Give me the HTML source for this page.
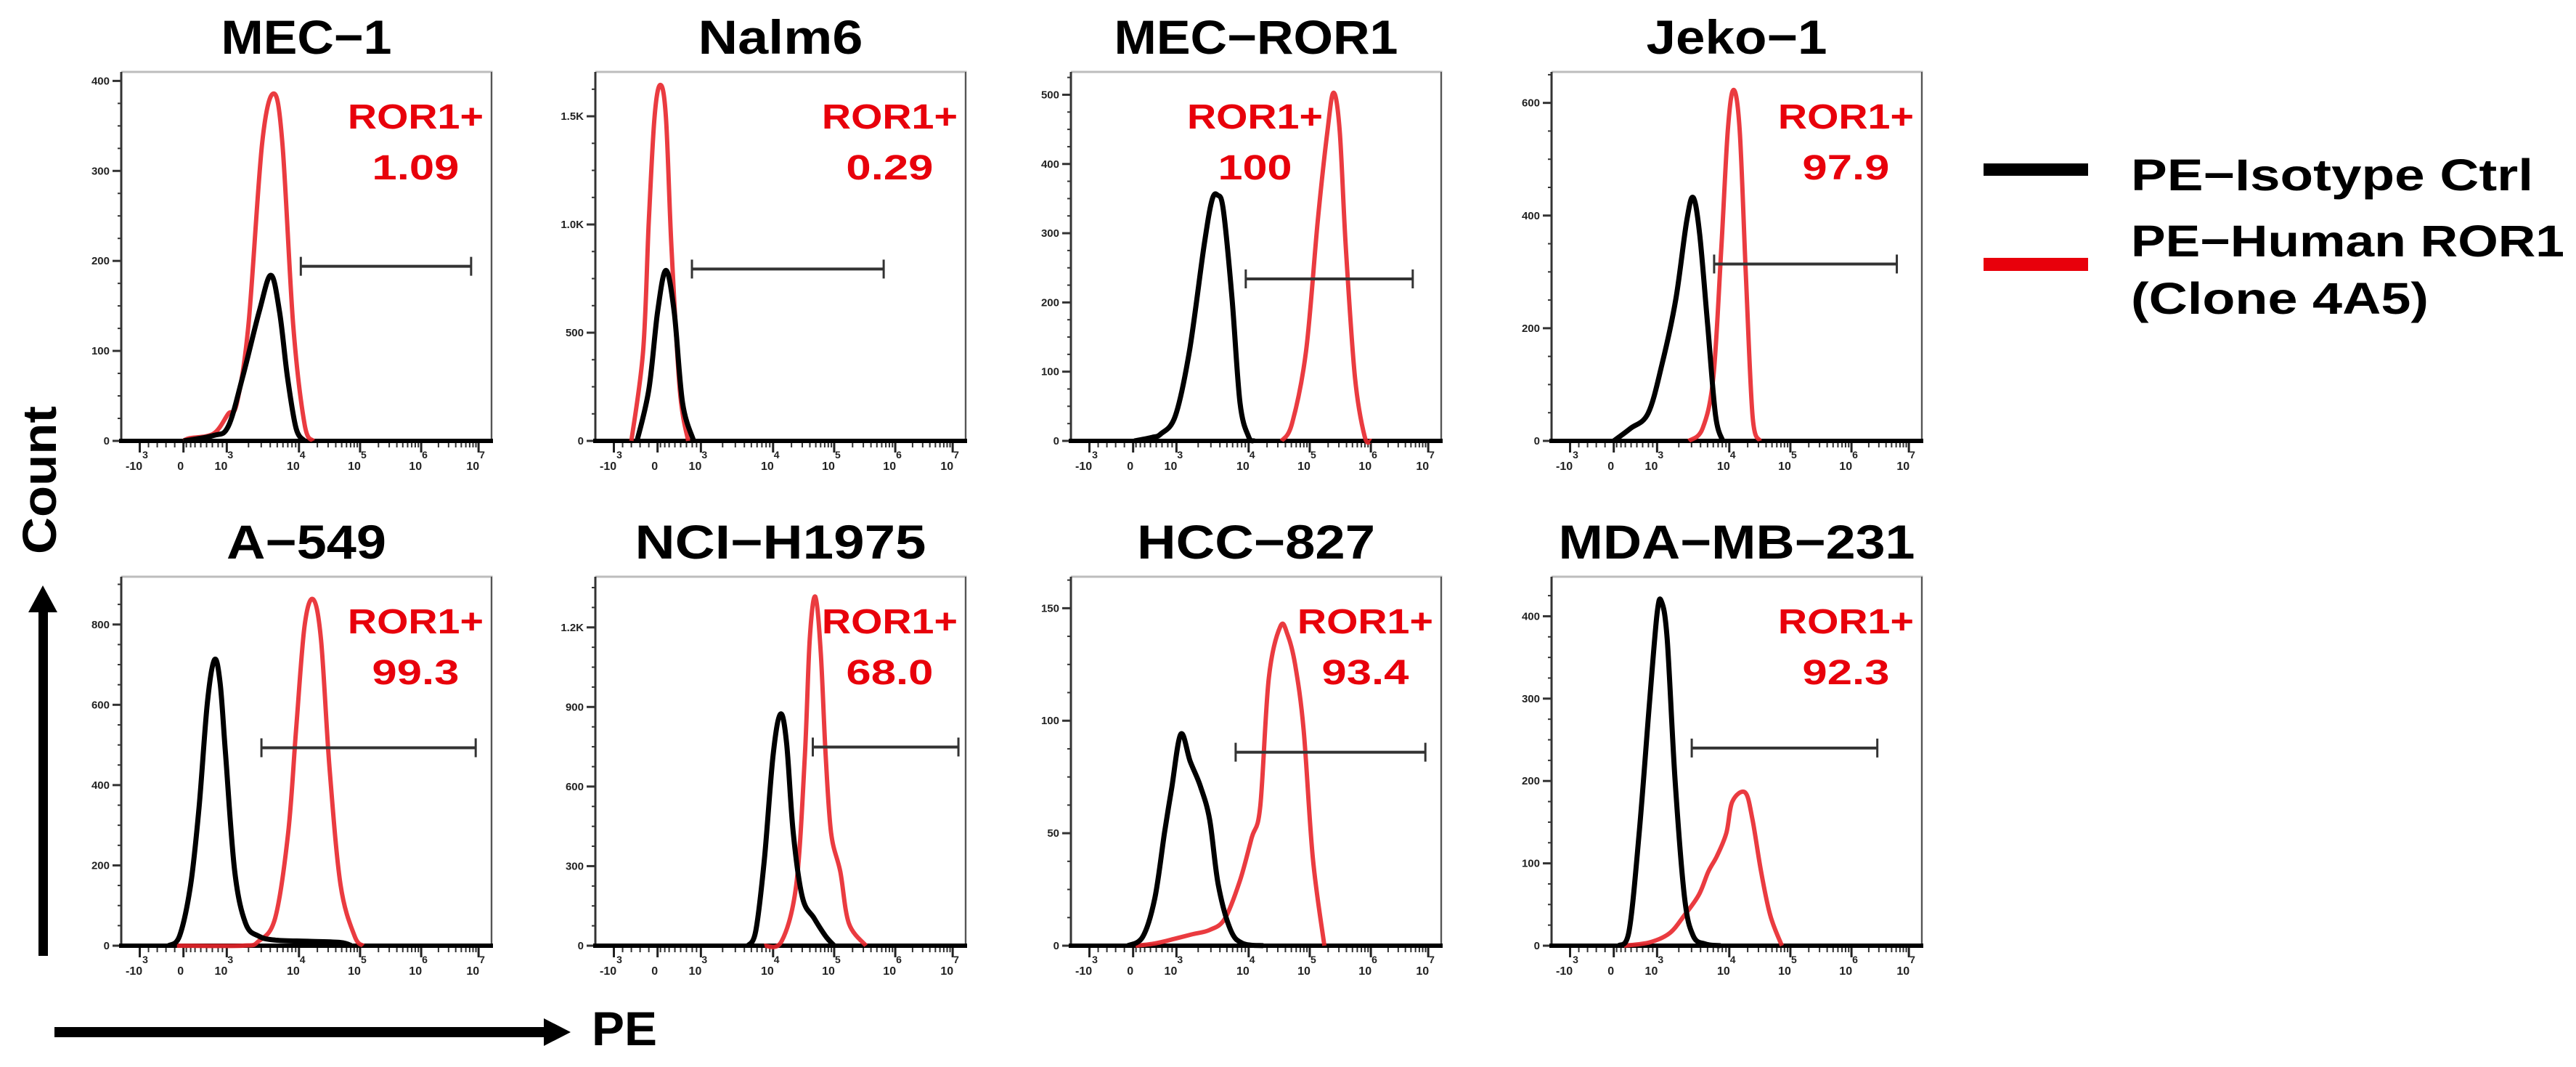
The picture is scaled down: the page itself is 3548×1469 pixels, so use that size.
<!DOCTYPE html>
<html><head><meta charset="utf-8"><title>ROR1 flow cytometry histograms</title>
<style>
html,body{margin:0;padding:0;background:#fff;}
svg{display:block;font-family:"Liberation Sans",Arial,sans-serif;}
</style></head>
<body>
<svg id="fig" width="3548" height="1469" viewBox="0 0 3548 1469" xmlns="http://www.w3.org/2000/svg">
  <rect width="3548" height="1469" fill="#fff"/>
  <g id="panels"></g>

  <!-- Y axis label + arrow -->
  <text x="0" y="0" transform="translate(77,661) rotate(-90)" text-anchor="middle" font-size="66" font-weight="bold" textLength="204" lengthAdjust="spacingAndGlyphs">Count</text>
  <g>
    <rect x="53" y="838" width="13" height="478" fill="#000"/>
    <polygon points="39,843 79,843 59,806" fill="#000"/>
  </g>
  <!-- X axis label + arrow -->
  <g>
    <rect x="75" y="1414" width="676" height="14" fill="#000"/>
    <polygon points="749,1402 749,1440 786,1421" fill="#000"/>
  </g>
  <text x="815" y="1439" font-size="66" font-weight="bold" textLength="90" lengthAdjust="spacingAndGlyphs">PE</text>

  <!-- Legend -->
  <g>
    <rect x="2732" y="225" width="144" height="17" fill="#000"/>
    <text x="2935" y="262" font-size="61" font-weight="bold" textLength="554" lengthAdjust="spacingAndGlyphs">PE−Isotype Ctrl</text>
    <rect x="2732" y="355" width="144" height="18" fill="#e8000b"/>
    <text x="2935" y="353" font-size="61" font-weight="bold" textLength="597" lengthAdjust="spacingAndGlyphs">PE−Human ROR1</text>
    <text x="2935" y="432" font-size="61" font-weight="bold" textLength="410" lengthAdjust="spacingAndGlyphs">(Clone 4A5)</text>
  </g>
</svg>
<script>
// ---------- DATA ----------
// x values are in "display decades": -1 = -10^3, 0 = 0, 3 = 10^3, 4 = 10^4 ... 7 = 10^7
const cellLines = ["MEC−1","Nalm6","MEC−ROR1","Jeko−1","A−549","NCI−H1975","HCC−827","MDA−MB−231"];
const ror1Percent = ["1.09","0.29","100","97.9","99.3","68.0","93.4","92.3"];
const yMax = [410, 1705, 533, 655, 919, 1391, 164, 448];
const yStep = [100, 500, 100, 200, 200, 300, 50, 100];
const xTickDecades = [-1, 0, 3, 4, 5, 6, 7];
const xTickLabels = [["-10","3"],["0",""],["10","3"],["10","4"],["10","5"],["10","6"],["10","7"]];
const gateStart = [4.03, 2.38, 3.96, 3.79, 3.48, 4.65, 3.82, 3.48];
const gateEnd   = [6.87, 5.81, 6.73, 6.79, 6.95, 7.10, 6.95, 6.45];
const gateCount = [194, 794, 234, 314, 493, 749, 86, 240];

const isotypeCurves = [
  [[0,0],[2.08,6],[3.02,16],[3.22,71],[3.45,144],[3.61,184],[3.73,144],[3.84,71],[3.96,14],[4.09,0]],
  [[-0.47,0],[-0.2,236],[0,596],[0.58,788],[1.15,596],[1.73,176],[2.5,0]],
  [[0.08,0],[1.30,5],[1.91,10],[2.92,36],[3.18,130],[3.38,280],[3.49,347],[3.57,355],[3.65,333],[3.77,206],[3.88,55],[4.0,6],[4.09,0]],
  [[0,0],[1.15,22],[2.38,49],[3.07,137],[3.26,252],[3.41,390],[3.50,432],[3.59,367],[3.70,206],[3.81,45],[3.91,0]],
  [[-0.34,0],[-0.09,24],[0.5,152],[1.08,345],[1.65,603],[2.15,712],[2.54,654],[2.92,474],[3.11,185],[3.26,56],[3.44,24],[3.67,14],[4.14,11],[4.68,8],[4.86,0]],
  [[3.65,0],[3.76,55],[3.88,328],[4.0,718],[4.12,873],[4.22,766],[4.33,425],[4.48,182],[4.67,104],[4.86,36],[5.0,0]],
  [[-0.12,0],[0.67,4],[1.5,21],[2.17,50],[2.67,70],[3.06,94],[3.19,82],[3.33,71],[3.46,56],[3.58,27],[3.75,7],[3.92,1],[4.24,0]],
  [[0.35,0],[1.06,18],[1.76,137],[2.47,294],[3.0,403],[3.06,418],[3.14,372],[3.25,200],[3.38,59],[3.5,12],[3.67,2],[3.88,0]]
];
const ror1Curves = [
  [[0,0],[0.42,3],[2.08,8],[3.02,30],[3.14,42],[3.30,129],[3.49,331],[3.65,386],[3.77,331],[3.92,129],[4.09,19],[4.23,0]],
  [[-0.6,0],[-0.33,416],[-0.2,1015],[-0.07,1495],[0.19,1645],[0.58,1495],[0.96,896],[1.54,236],[2.12,0]],
  [[4.54,0],[4.71,25],[4.94,130],[5.13,317],[5.29,448],[5.39,503],[5.49,448],[5.59,280],[5.74,92],[5.90,6],[6.0,0]],
  [[3.44,0],[3.63,22],[3.78,114],[3.89,344],[3.98,552],[4.07,623],[4.17,552],[4.27,298],[4.38,45],[4.5,0]],
  [[-0.15,0],[3.22,0],[3.44,11],[3.67,69],[3.85,281],[3.96,538],[4.09,795],[4.23,863],[4.36,763],[4.5,442],[4.68,152],[4.91,24],[5.05,0]],
  [[3.88,0],[4.14,17],[4.38,231],[4.52,718],[4.6,1156],[4.69,1316],[4.78,1107],[4.86,718],[4.95,425],[5.1,279],[5.24,85],[5.52,0]],
  [[0.17,0],[1.5,1],[2.83,3],[3.21,5],[3.46,7],[3.67,12],[3.88,29],[4.05,48],[4.19,62],[4.33,119],[4.52,142],[4.64,138],[4.76,125],[4.9,96],[5.05,39],[5.24,0]],
  [[0.71,0],[2.47,4],[3.17,15],[3.38,37],[3.58,62],[3.71,90],[3.83,109],[3.96,137],[4.05,175],[4.26,186],[4.38,153],[4.52,90],[4.67,37],[4.86,0]]
];

// ---------- LAYOUT ----------
const NS = "http://www.w3.org/2000/svg";
const colLeft = [167, 820, 1475, 2137];
const rowTop = [99, 794];
const plotW = 510, plotH = 508;
const tickFrac = [0.05, 0.168, 0.285, 0.48, 0.645, 0.81, 0.965];
const titleLen = [235, 227, 391, 249, 220, 401, 328, 491];
const labelFrac = [0.795, 0.795, 0.497, 0.795, 0.795, 0.795, 0.795, 0.795];

function mk(tag, attrs, parent) {
  const e = document.createElementNS(NS, tag);
  for (const k in attrs) e.setAttribute(k, attrs[k]);
  if (parent) parent.appendChild(e);
  return e;
}
function xFrac(v) {
  const t = xTickDecades;
  if (v <= t[0]) return tickFrac[0] + (v - t[0]) * (tickFrac[1] - tickFrac[0]);
  for (let i = 0; i < t.length - 1; i++) {
    if (v <= t[i + 1]) return tickFrac[i] + (v - t[i]) / (t[i + 1] - t[i]) * (tickFrac[i + 1] - tickFrac[i]);
  }
  const n = t.length - 1;
  return tickFrac[n] + (v - t[n]) * (tickFrac[n] - tickFrac[n - 1]);
}
function smoothPath(pts) {
  let d = "M" + pts[0][0].toFixed(1) + "," + pts[0][1].toFixed(1);
  for (let i = 0; i < pts.length - 1; i++) {
    const p0 = pts[Math.max(0, i - 1)], p1 = pts[i], p2 = pts[i + 1], p3 = pts[Math.min(pts.length - 1, i + 2)];
    const c1x = p1[0] + (p2[0] - p0[0]) / 6, c1y = p1[1] + (p2[1] - p0[1]) / 6;
    const c2x = p2[0] - (p3[0] - p1[0]) / 6, c2y = p2[1] - (p3[1] - p1[1]) / 6;
    d += " C" + c1x.toFixed(1) + "," + c1y.toFixed(1) + " " + c2x.toFixed(1) + "," + c2y.toFixed(1) + " " + p2[0].toFixed(1) + "," + p2[1].toFixed(1);
  }
  return d;
}
function fmtY(v) { return v >= 1000 ? (v / 1000).toFixed(1) + "K" : String(v); }

const root = document.getElementById("panels");
for (let p = 0; p < cellLines.length; p++) {
  const L = colLeft[p % 4], T = rowTop[Math.floor(p / 4)], B = T + plotH, R = L + plotW;
  const sx = v => L + xFrac(v) * plotW;
  const sy = c => B - c / yMax[p] * plotH;

  const g = mk("g", {}, root);
  
  

  const title = mk("text", { x: (L + R) / 2, y: T - 25, "text-anchor": "middle", "font-size": 66, "font-weight": "bold", textLength: titleLen[p], lengthAdjust: "spacingAndGlyphs" }, g);
  
  
  title.textContent = cellLines[p];

  // frame
  const fr = mk("path", { d: `M${L},${T} L${R},${T} L${R},${B}`, fill: "none", stroke: "#bdbdbd", "stroke-width": 3 }, g);
  
  
  mk("line", { x1: R, y1: T, x2: R, y2: B, stroke: "#555", "stroke-width": 2 }, g);
  const ya = mk("line", { x1: L, y1: T, x2: L, y2: B, stroke: "#333", "stroke-width": 3 }, g);
  
  

  // y ticks
  const minorStep = yStep[p] / 4;
  for (let v = 0; v <= yMax[p] + 0.001; v += minorStep) {
    const y = sy(v);
    const major = Math.abs(v / yStep[p] - Math.round(v / yStep[p])) < 1e-6;
    mk("line", { x1: L - (major ? 12 : 5), y1: y, x2: L, y2: y, stroke: "#333", "stroke-width": major ? 3 : 2 }, g);
    if (major) {
      const t = mk("text", { x: L - 16, y: y + 5, "text-anchor": "end", "font-size": 15, "font-weight": "bold", fill: "#222" }, g);
      
      
      t.textContent = fmtY(v);
    }
  }

  // x ticks
  const minors = [];
  [-0.8, -0.6, -0.4, -0.2, 0.2, 0.5, 0.8, 1.2, 1.6, 2.0, 2.4, 2.7].forEach(v => minors.push(v));
  for (let d = 3; d < 7; d++) for (let m = 2; m <= 9; m++) minors.push(d + Math.log10(m));
  minors.forEach(v => mk("line", { x1: sx(v), y1: B, x2: sx(v), y2: B + 9, stroke: "#333", "stroke-width": 2 }, g));
  xTickDecades.forEach((v, i) => {
    const x = sx(v);
    mk("line", { x1: x, y1: B, x2: x, y2: B + 16, stroke: "#222", "stroke-width": 3 }, g);
    const t = mk("text", { x: x - 4, y: B + 40, "text-anchor": "middle", "font-size": 16, "font-weight": "bold", fill: "#222" }, g);
    
    
    t.textContent = xTickLabels[i][0];
    if (xTickLabels[i][1]) {
      const s = mk("tspan", { dy: -16, "font-size": 14 }, t);
      s.textContent = xTickLabels[i][1];
    }
  });
  const xa = mk("line", { x1: L - 3, y1: B, x2: R + 2, y2: B, stroke: "#000", "stroke-width": 6 }, g);
  
  

  // curves
  const redPts = ror1Curves[p].map(q => [sx(q[0]), sy(q[1])]);
  const blkPts = isotypeCurves[p].map(q => [sx(q[0]), sy(q[1])]);
  const red = mk("path", { d: smoothPath(redPts), fill: "none", stroke: "#e8262b", "stroke-opacity": 0.9, "stroke-width": 6, "stroke-linejoin": "round" }, g);
  
  
  const blk = mk("path", { d: smoothPath(blkPts), fill: "none", stroke: "#000", "stroke-width": 7, "stroke-linejoin": "round" }, g);
  
  

  // gate
  const gy = sy(gateCount[p]), gx1 = sx(gateStart[p]), gx2 = sx(gateEnd[p]);
  const gate = mk("g", {}, g);
  
  
  mk("line", { x1: gx1, y1: gy, x2: gx2, y2: gy, stroke: "#333", "stroke-width": 4 }, gate);
  mk("line", { x1: gx1, y1: gy - 13, x2: gx1, y2: gy + 13, stroke: "#333", "stroke-width": 3 }, gate);
  mk("line", { x1: gx2, y1: gy - 13, x2: gx2, y2: gy + 13, stroke: "#333", "stroke-width": 3 }, gate);

  // labels
  const cx = L + labelFrac[p] * plotW;
  const l1 = mk("text", { x: cx, y: T + 78, "text-anchor": "middle", "font-size": 48, "font-weight": "bold", fill: "#e8000b", textLength: 187, lengthAdjust: "spacingAndGlyphs" }, g);
  
  
  l1.textContent = "ROR1+";
  const s = ror1Percent[p];
  const digits = s.replace(".", "").length, dots = s.length - digits;
  const l2 = mk("text", { x: cx, y: T + 148, "text-anchor": "middle", "font-size": 48, "font-weight": "bold", fill: "#e8000b", textLength: digits * 34 + dots * 18, lengthAdjust: "spacingAndGlyphs" }, g);
  
  
  l2.textContent = s;
}
</script>
</body></html>
